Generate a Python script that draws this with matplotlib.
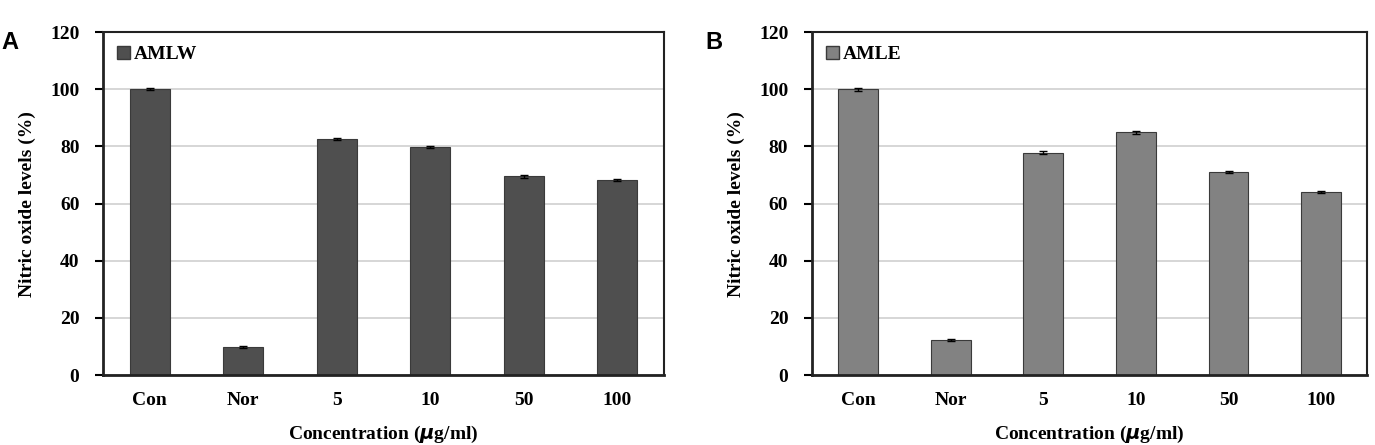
import matplotlib.pyplot as plt
from matplotlib.patches import Patch

categories = ['Con', 'Nor', '5', '10', '50', '100']
amlw = [100.0, 9.8, 82.5, 79.7, 69.5, 68.3]
amlw_err = [0.4, 0.4, 0.3, 0.3, 0.4, 0.3]
amle = [100.0, 12.3, 77.8, 85.0, 71.0, 64.0]
amle_err = [0.5, 0.3, 0.6, 0.5, 0.3, 0.3]

plt.rcParams['font.family'] = ['Liberation Serif', 'DejaVu Serif']
plt.rcParams['font.weight'] = 'bold'

fig = plt.figure(figsize=(13.75, 4.45), dpi=100)
ax_a = fig.add_axes([0.0749, 0.157, 0.408, 0.771])
ax_b = fig.add_axes([0.5905, 0.157, 0.404, 0.771])

panels = [
    (ax_a, amlw, amlw_err, '#4f4f4f', 'AMLW', 'A', 0.001),
    (ax_b, amle, amle_err, '#828282', 'AMLE', 'B', 0.513),
]

for ax, vals, errs, color, name, letter, lx in panels:
    x = range(len(categories))
    ax.bar(x, vals, width=0.43, color=color, edgecolor='#3a3a3a',
           linewidth=0.8, zorder=2)
    ax.errorbar(x, vals, yerr=errs, fmt='none', ecolor='black',
                elinewidth=1, capsize=3, capthick=1, zorder=3)
    ax.set_ylim(0, 120)
    ax.set_xlim(-0.5, len(categories) - 0.5)
    ax.set_yticks(range(0, 121, 20))
    ax.yaxis.grid(True, color='#cfcfcf', linewidth=1.2, zorder=0)
    ax.set_axisbelow(True)
    for s in ax.spines.values():
        s.set_linewidth(1.5)
        s.set_color('#222222')
    ax.spines['left'].set_linewidth(2)
    ax.spines['bottom'].set_linewidth(2)
    ax.set_xticks(list(x))
    ax.set_xticklabels(categories)
    ax.tick_params(axis='x', length=0, pad=12, labelsize=14)
    ax.tick_params(axis='y', direction='out', length=6, width=1.5,
                   pad=11, labelsize=14)
    ax.set_ylabel('Nitric oxide levels (%)', fontsize=14, fontweight='bold',
                  labelpad=10)
    ax.set_xlabel('Concentration ($\\mu$g/ml)', fontsize=14,
                  fontweight='bold', labelpad=11)
    ax.legend(handles=[Patch(facecolor=color, edgecolor='#3a3a3a',
                             label=name)],
              loc='upper left', frameon=False, handlelength=0.7,
              handleheight=0.7, handletextpad=0.2, borderaxespad=0.3,
              prop={'family': 'Liberation Serif', 'weight': 'bold',
                    'size': 14})
    fig.text(lx, 0.905, letter, fontsize=17, fontweight='bold',
             family='Liberation Sans', ha='left', va='center')

plt.savefig('out.png', dpi=100)
